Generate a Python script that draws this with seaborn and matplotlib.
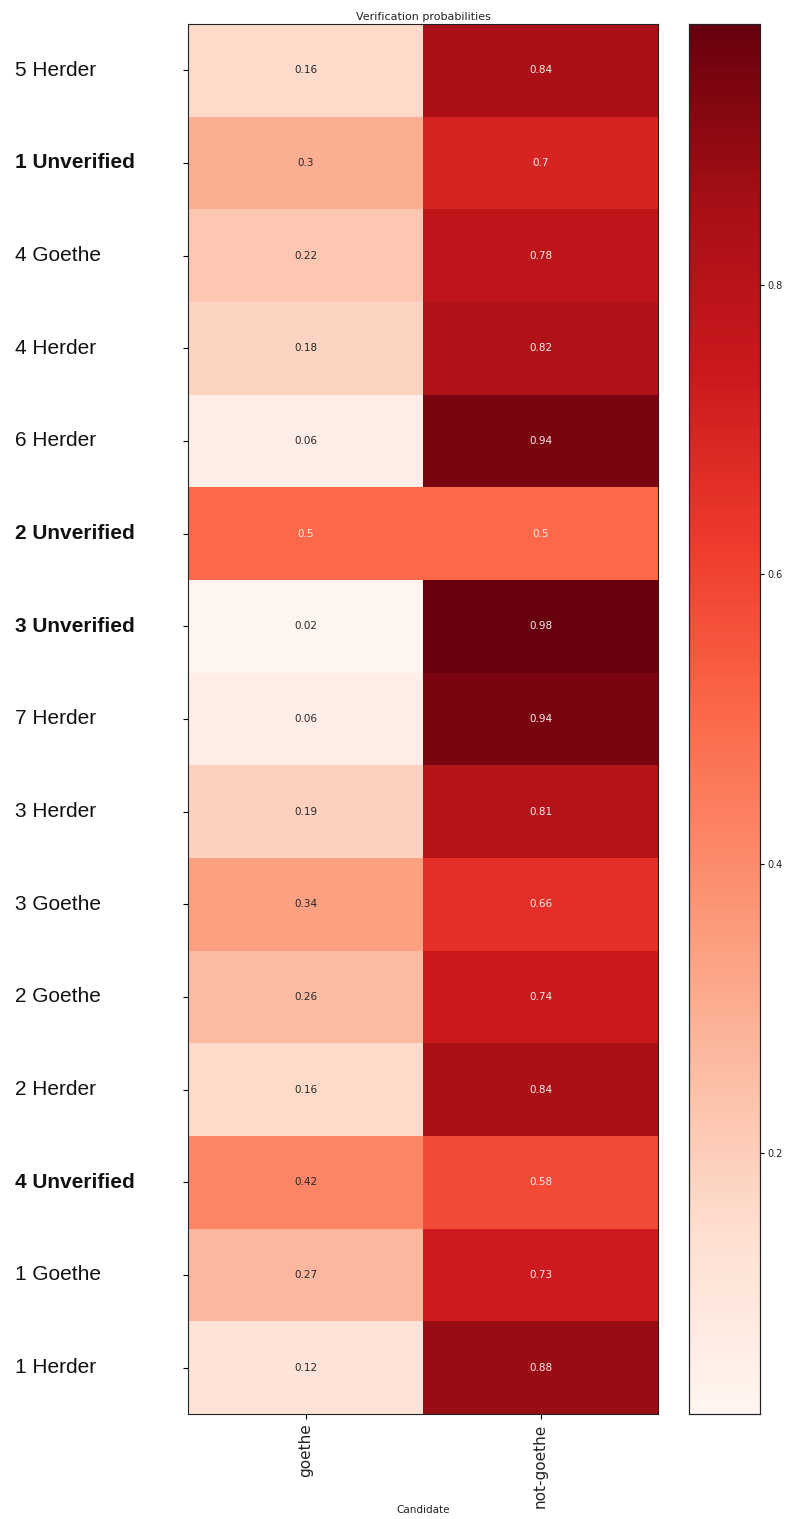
import matplotlib
matplotlib.use("Agg")
import matplotlib.pyplot as plt
import seaborn as sns
import pandas as pd
import numpy as np

rows = ["5 Herder", "1 Unverified", "4 Goethe", "4 Herder", "6 Herder",
        "2 Unverified", "3 Unverified", "7 Herder", "3 Herder", "3 Goethe",
        "2 Goethe", "2 Herder", "4 Unverified", "1 Goethe", "1 Herder"]
columns = ["goethe", "not-goethe"]
goethe = [0.16, 0.30, 0.22, 0.18, 0.06, 0.50, 0.02, 0.06, 0.19, 0.34,
          0.26, 0.16, 0.42, 0.27, 0.12]
not_goethe = [0.84, 0.70, 0.78, 0.82, 0.94, 0.50, 0.98, 0.94, 0.81, 0.66,
              0.74, 0.84, 0.58, 0.73, 0.88]
cbar_ticks = [0.2, 0.4, 0.6, 0.8]

df = pd.DataFrame({columns[0]: goethe, columns[1]: not_goethe}, index=rows)

plt.rcParams['font.family'] = ['DejaVu Sans']
fig = plt.figure(figsize=(7.85, 15.19), dpi=100)
W, H = 785, 1519
ax = fig.add_axes([188 / W, 1 - 1414 / H, (658 - 188) / W, (1414 - 24) / H])
cax = fig.add_axes([689 / W, 1 - 1414 / H, (760 - 689) / W, (1414 - 24) / H])

sns.heatmap(df, ax=ax, cbar_ax=cax, cmap="Reds", annot=True, fmt="g",
            annot_kws={"fontsize": 7.5}, linewidths=0)

for t in ax.texts:
    try:
        v = float(t.get_text())
    except ValueError:
        continue
    t.set_color("#262626" if v < 0.45 else "#f0f0f0")

for s in ax.spines.values():
    s.set_visible(True)
    s.set_color("#222222")
    s.set_linewidth(0.8)
cax.set_frame_on(True)
for s in cax.spines.values():
    s.set_visible(True)
    s.set_color("#222222")
    s.set_linewidth(0.8)

ax.set_title("Verification probabilities", fontsize=8, pad=3, color="#222222")
ax.set_xlabel("Candidate", fontsize=7.5, color="#222222")
ax.xaxis.set_label_coords(0.5, -0.0655)
ax.set_ylabel("")
ax.set_xticklabels(columns, rotation=90, fontsize=11, color="#222222")
ax.set_yticks(np.arange(len(rows)) + 0.5)
ax.set_yticklabels(rows, rotation=0, fontsize=15, color="#111111",
                   family=["Liberation Sans", "DejaVu Sans"])
for lab in ax.get_yticklabels():
    lab.set_horizontalalignment("left")
    if "Unverified" in lab.get_text():
        lab.set_fontweight("bold")
# left edge of labels at about x = 15 px
ax.tick_params(axis="y", length=3.5, pad=(188 - 15 - 4.9) * 0.72)
ax.tick_params(axis="x", length=3.5)

cax.set_yticks(cbar_ticks)
cax.set_yticklabels([str(t) for t in cbar_ticks], fontsize=7, color="#222222")
cax.tick_params(length=3, pad=2)

fig.savefig("out.png", dpi=100)
